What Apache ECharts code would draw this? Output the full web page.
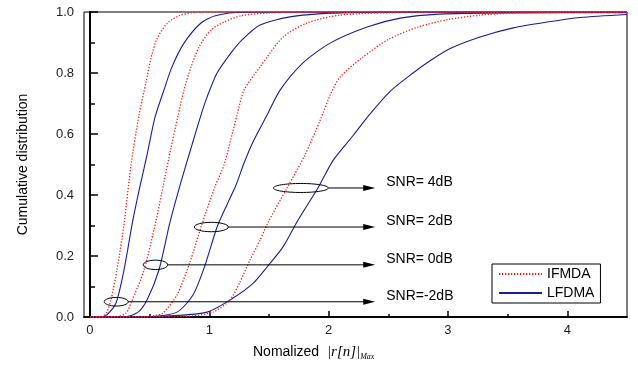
<!DOCTYPE html>
<html>
<head>
<meta charset="utf-8">
<script src="https://cdn.jsdelivr.net/npm/echarts/dist/echarts.min.js"></script>
<style>
  html, body { margin: 0; padding: 0; background: #fff; }
  #main { width: 638px; height: 370px; }
</style>
</head>
<body>
<div id="main"></div>
<script>
// curves, [x, cumulative prob]
var ifdmaM2 = [[0,0],[0.10,0],[0.117,0.003],[0.142,0.016],[0.176,0.056],[0.226,0.154],[0.285,0.302],[0.344,0.498],[0.411,0.662],[0.47,0.77],[0.51,0.846],[0.56,0.911],[0.65,0.964],[0.76,0.99],[0.9,0.999],[1.2,1],[4.5,1]];
var lfdmaM2 = [[0,0],[0.1,0.001],[0.142,0.007],[0.218,0.046],[0.285,0.154],[0.356,0.31],[0.411,0.414],[0.478,0.531],[0.545,0.655],[0.62,0.744],[0.687,0.82],[0.788,0.898],[0.93,0.964],[1.05,0.988],[1.29,0.999],[4.5,1]];
var ifdma0 = [[0,0],[0.2,0],[0.3,0.012],[0.344,0.046],[0.453,0.154],[0.553,0.315],[0.62,0.443],[0.679,0.554],[0.735,0.655],[0.788,0.744],[0.847,0.82],[0.914,0.885],[1.014,0.941],[1.123,0.967],[1.266,0.988],[1.5,0.997],[1.8,1],[4.5,1]];
var lfdma0 = [[0,0],[0.3,0.001],[0.4,0.015],[0.478,0.056],[0.578,0.154],[0.67,0.31],[0.763,0.443],[0.847,0.554],[0.93,0.662],[0.981,0.721],[1.065,0.8],[1.182,0.866],[1.27,0.907],[1.425,0.957],[1.676,0.984],[2.096,0.997],[2.93,1],[4.5,1]];
var ifdma2 = [[0,0],[0.45,0],[0.55,0.005],[0.612,0.013],[0.729,0.072],[0.838,0.18],[0.935,0.3],[1.05,0.43],[1.123,0.498],[1.232,0.662],[1.291,0.744],[1.425,0.82],[1.618,0.918],[1.819,0.964],[2.096,0.99],[2.657,0.999],[3.2,1],[4.5,1]];
var lfdma2 = [[0,0],[0.5,0.001],[0.729,0.016],[0.863,0.072],[0.96,0.165],[1.065,0.295],[1.15,0.37],[1.224,0.433],[1.291,0.505],[1.366,0.574],[1.484,0.662],[1.593,0.744],[1.785,0.833],[2.012,0.898],[2.322,0.951],[2.6,0.98],[2.93,0.993],[3.5,0.997],[4.5,0.998]];
var ifdma4 = [[0,0],[0.8,0.002],[1.031,0.016],[1.174,0.056],[1.257,0.115],[1.341,0.187],[1.425,0.252],[1.492,0.31],[1.651,0.423],[1.8,0.53],[1.93,0.646],[2.02,0.734],[2.096,0.787],[2.28,0.85],[2.5,0.91],[2.75,0.951],[3.0,0.975],[3.27,0.99],[3.6,0.997],[4.4,1],[4.5,1]];
var lfdma4 = [[0,0],[0.4,0],[0.645,0.003],[0.981,0.016],[1.199,0.062],[1.366,0.11],[1.484,0.164],[1.618,0.23],[1.744,0.318],[1.91,0.423],[2.04,0.515],[2.205,0.595],[2.33,0.658],[2.515,0.74],[2.707,0.8],[2.85,0.84],[3.018,0.88],[3.269,0.918],[3.546,0.948],[3.83,0.967],[4.107,0.982],[4.5,0.992]];

var xTicks = [0, 1, 2, 3, 4];
var xMinorTicks = [0.5, 1.5, 2.5, 3.5];

// annotation rings and arrows
var snrLabels = ['SNR=-2dB', 'SNR= 0dB', 'SNR= 2dB', 'SNR= 4dB'];
var ringX = [0.22, 0.549, 1.017, 1.767];
var ringY = [0.05, 0.171, 0.295, 0.423];
var arrowTipX = 2.39;

var RED = '#ff1a1a', BLUE = '#1c1c96';
var FONT = '"Liberation Sans", Arial, sans-serif';

var chart = echarts.init(document.getElementById('main'));

function curve(name, data, color, dotted) {
  return {
    name: name, type: 'line', data: data,
    symbol: 'none', smooth: 0.25,
    lineStyle: { color: color, width: dotted ? 1.3 : 1.1, type: dotted ? [1.3, 1.7] : 'solid' },
    itemStyle: { color: color },
    z: dotted ? 3 : 2
  };
}

var option = {
  animation: false,
  backgroundColor: '#fff',
  grid: { left: 84, right: 11, top: 12, bottom: 53, show: true, borderColor: '#000', borderWidth: 1 },
  legend: {
    left: 492, top: 264, orient: 'vertical',
    backgroundColor: '#fff', borderColor: '#000', borderWidth: 1,
    padding: [3, 6, 3, 6], itemGap: 5, itemWidth: 43, itemHeight: 14,
    itemStyle: { opacity: 0 },
    textStyle: { fontFamily: FONT, fontSize: 14, color: '#000', width: 66 },
    data: ['IFMDA', 'LFDMA']
  },
  xAxis: [{
    type: 'value', min: -0.05, max: 4.5,
    axisLine: { lineStyle: { color: '#000', width: 2 } },
    axisTick: { inside: true, length: 6, customValues: xTicks, lineStyle: { color: '#000', width: 1.5 } },
    axisLabel: { customValues: xTicks, margin: 7, fontFamily: FONT, fontSize: 13, color: '#222' },
    splitLine: { show: false }
  }, {
    type: 'value', min: -0.05, max: 4.5, position: 'bottom',
    axisLine: { show: false },
    axisTick: { inside: true, length: 3, customValues: xMinorTicks, lineStyle: { color: '#000', width: 1.5 } },
    axisLabel: { show: false },
    splitLine: { show: false }
  }],
  yAxis: [{
    type: 'value', min: 0, max: 1, interval: 0.2,
    name: 'Cumulative distribution', nameLocation: 'middle', nameGap: 54,
    nameTextStyle: { fontFamily: FONT, fontSize: 14, color: '#000' },
    axisLine: { lineStyle: { color: '#000', width: 2 } },
    axisTick: { inside: true, length: 8, lineStyle: { color: '#000', width: 1.5 } },
    minorTick: { show: true, splitNumber: 2, length: 5, lineStyle: { color: '#000', width: 1.5 } },
    axisLabel: { margin: 10, fontFamily: FONT, fontSize: 13, color: '#222', formatter: function (v) { return v.toFixed(1); } },
    splitLine: { show: false }
  }, {
    type: 'value', min: 0, max: 1, position: 'right',
    axisLine: { show: true, lineStyle: { color: '#000', width: 2 } },
    axisTick: { show: false }, axisLabel: { show: false }, splitLine: { show: false }
  }],
  series: [
    curve('LFDMA', lfdmaM2, BLUE, false),
    curve('LFDMA', lfdma0, BLUE, false),
    curve('LFDMA', lfdma2, BLUE, false),
    curve('LFDMA', lfdma4, BLUE, false),
    curve('IFMDA', ifdmaM2, RED, true),
    curve('IFMDA', ifdma0, RED, true),
    curve('IFMDA', ifdma2, RED, true),
    curve('IFMDA', ifdma4, RED, true)
  ]
};
chart.setOption(option);

// rings, arrows, labels and the x-axis title
var ringSize = [[12, 4.3], [12.2, 4.7], [17, 4.7], [27.5, 4.5]];
var els = [];
snrLabels.forEach(function (txt, i) {
  var c = chart.convertToPixel({ gridIndex: 0 }, [ringX[i], ringY[i]]);
  var tip = chart.convertToPixel({ gridIndex: 0 }, [arrowTipX, ringY[i]]);
  var rx = ringSize[i][0], ry = ringSize[i][1];
  els.push({ type: 'ellipse', z: 20, shape: { cx: c[0], cy: c[1], rx: rx, ry: ry },
    style: { fill: null, stroke: '#000', lineWidth: 1 } });
  els.push({ type: 'line', z: 20, shape: { x1: c[0] + rx, y1: c[1], x2: tip[0] - 8, y2: c[1] },
    style: { stroke: '#000', lineWidth: 1 } });
  els.push({ type: 'polygon', z: 20, shape: { points: [[tip[0], c[1]], [tip[0] - 12, c[1] - 3], [tip[0] - 12, c[1] + 3]] },
    style: { fill: '#000' } });
  els.push({ type: 'text', z: 20, x: tip[0] + 11, y: c[1] + 1,
    style: { text: txt, font: '14px ' + FONT, fill: '#000', align: 'left', verticalAlign: 'bottom' } });
});
els.push({
  type: 'text', z: 20, x: 253, y: 352,
  style: {
    text: '{a|Nomalized  }{b||r[n]|}{c|Max}',
    verticalAlign: 'middle',
    rich: {
      a: { fontFamily: FONT, fontSize: 14, fill: '#000' },
      b: { fontFamily: '"Liberation Serif", "DejaVu Serif", serif', fontStyle: 'italic', fontSize: 15, fill: '#000' },
      c: { fontFamily: '"Liberation Serif", serif', fontStyle: 'italic', fontSize: 8, fill: '#000', padding: [10, 0, 0, 0] }
    }
  }
});
chart.setOption({ graphic: els });
</script>
</body>
</html>
